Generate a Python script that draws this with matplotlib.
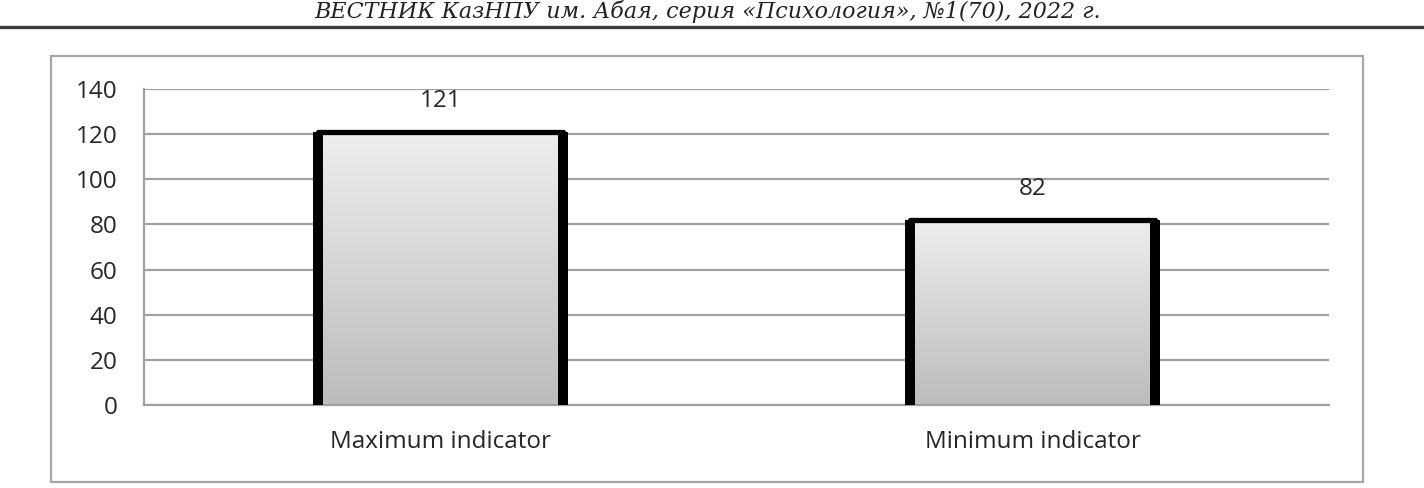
import matplotlib.pyplot as plt
import matplotlib.colors as mcolors
import numpy as np

# данные
categories = ['Maximum indicator', 'Minimum indicator']
values = [121, 82]
y_ticks = [0, 20, 40, 60, 80, 100, 120, 140]
header = 'ВЕСТНИК КазНПУ им. Абая, серия «Психология», №1(70), 2022 г.'

W, H = 1424, 488
fig = plt.figure(figsize=(W / 100, H / 100), dpi=100)
fig.patch.set_facecolor('white')

# заголовок журнала и линия под ним
fig.text(0.497, 1 - 18 / H, header, ha='center', va='baseline', fontsize=16,
         family='DejaVu Serif', style='italic', color='#222222')
fig.add_artist(plt.Line2D([0, 1], [1 - 26.5 / H, 1 - 26.5 / H], transform=fig.transFigure,
                          color='#3c3c3c', linewidth=2.4))

# рамка диаграммы
frame = plt.Rectangle((51 / W, 1 - 482 / H), (1363 - 51) / W, (482 - 56) / H,
                      transform=fig.transFigure, fill=False, edgecolor='#a6a6a6', linewidth=1.6)
fig.add_artist(frame)

ax = fig.add_axes([144 / W, 1 - 405 / H, (1329 - 144) / W, (405 - 89) / H])
ax.set_facecolor('none')

x = np.arange(len(categories))
bar_w = 0.414
cmap = mcolors.LinearSegmentedColormap.from_list('g', ['#bcbcbc', '#eeeeee'])
grad = np.linspace(0, 1, 256).reshape(-1, 1)

for xi, v in zip(x, values):
    left, right = xi - bar_w / 2, xi + bar_w / 2
    ax.imshow(grad, extent=[left, right, 0, v], origin='lower', cmap=cmap,
              aspect='auto', zorder=2)
    ax.plot([left, left, right, right], [0, v, v, 0], color='black', linewidth=3.8,
            solid_joinstyle='round', zorder=3)
    ax.plot([left, left], [0, v], color='black', linewidth=7.2, solid_capstyle='butt', zorder=3)
    ax.plot([right, right], [0, v], color='black', linewidth=7.2, solid_capstyle='butt', zorder=3)
    ax.annotate(str(v), (xi, v), xytext=(0, 22), textcoords='offset points', ha='center',
                va='center', fontsize=17.5, family='Open Sans', color='#262626')

ax.set_xlim(-0.5, 1.5)
ax.set_ylim(0, 140)
ax.set_yticks(y_ticks)
ax.set_xticks(x)
ax.set_xticklabels(categories)
ax.yaxis.grid(True, color='#a0a0a0', linewidth=1.6, zorder=0)
ax.set_axisbelow(True)
for side in ['top', 'right']:
    ax.spines[side].set_visible(False)
for side in ['left', 'bottom']:
    ax.spines[side].set_color('#a0a0a0')
    ax.spines[side].set_linewidth(1.6)
ax.tick_params(axis='both', length=0, labelsize=17.5, labelcolor='#262626')
ax.tick_params(axis='y', pad=19)
ax.tick_params(axis='x', pad=18)
for lbl in ax.get_xticklabels() + ax.get_yticklabels():
    lbl.set_family('Open Sans')

fig.savefig('out.png', dpi=100)
